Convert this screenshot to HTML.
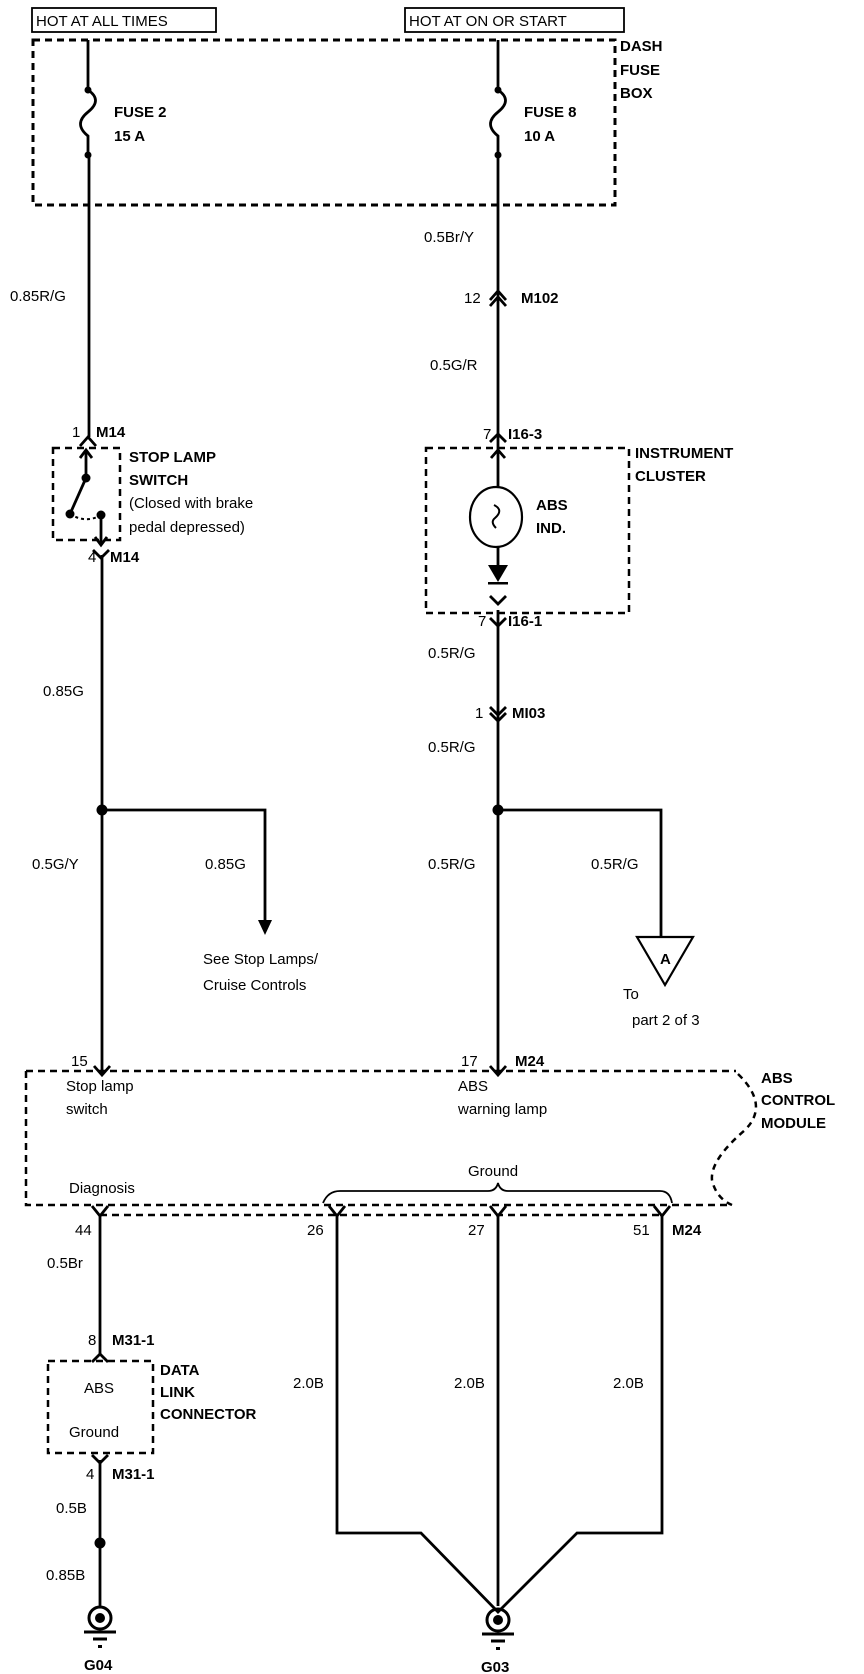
<!DOCTYPE html>
<html><head><meta charset="utf-8"><style>
html,body{margin:0;padding:0;background:#fff;}
svg{display:block;}
text{font-family:"Liberation Sans",Arial,sans-serif;font-size:15px;fill:#000;}
.b{font-weight:bold;font-size:15px;}
</style></head><body>
<svg width="864" height="1674" viewBox="0 0 864 1674" xmlns="http://www.w3.org/2000/svg">
<g fill="none" stroke="#000" stroke-width="2.8">
<rect x="32" y="8" width="184" height="24" stroke-width="1.8"/>
<rect x="405" y="8" width="219" height="24" stroke-width="1.8"/>
<rect x="33" y="40" width="582" height="165" stroke-dasharray="7,5" stroke-width="3"/>
<line x1="88" y1="40" x2="88" y2="90"/>
<path d="M88 90 Q103 100 88 112 Q73 124 88 136 L88 155"/>
<line x1="89" y1="155" x2="89" y2="437"/>
<line x1="498" y1="40" x2="498" y2="90"/>
<path d="M498 90 Q513 100 498 112 Q483 124 498 136 L498 155"/>
<line x1="498" y1="155" x2="498" y2="565"/>
<path d="M490 300 L498 291 L506 300 M490 306 L498 297 L506 306"/>
<path d="M80 446 L88 437 L96 446"/>
<rect x="53" y="448" width="67" height="92" stroke-dasharray="7,5" stroke-width="2.5"/>
<line x1="86" y1="478" x2="86" y2="450"/>
<path d="M80 458 L86 450 L92 458"/>
<line x1="86" y1="478" x2="70" y2="514"/>
<path d="M70 514 Q86 524 101 515" stroke-dasharray="3,3" stroke-width="2"/>
<line x1="101" y1="515" x2="101" y2="545"/>
<path d="M95 537 L101 545 L107 537"/>
<path d="M93 550 L101 558 L109 550"/>
<line x1="102" y1="555" x2="102" y2="1075"/>
<rect x="426" y="448" width="203" height="165" stroke-dasharray="7,5" stroke-width="2.5"/>
<path d="M490 442 L498 434 L506 442"/>
<path d="M491 458 L498 450 L505 458"/>
<ellipse cx="496" cy="517" rx="26" ry="30" fill="#fff" stroke-width="2.2"/>
<path d="M494 505 Q504 510 495 518 Q490 522 496 528" stroke-width="2"/>
<path d="M490 596 L498 604 L506 596"/>
<path d="M490 618 L498 626 L506 618"/>
<line x1="498" y1="610" x2="498" y2="1075"/>
<path d="M490 707 L498 715 L506 707 M490 713 L498 721 L506 713"/>
<polyline points="102,810 265,810 265,920"/>
<polyline points="498,810 661,810 661,937"/>
<path d="M26 1071 L736 1071" stroke-dasharray="7,5" stroke-width="2.5"/>
<path d="M26 1071 L26 1205 L730 1205" stroke-dasharray="7,5" stroke-width="2.5"/>
<path d="M738 1074 Q770 1105 745 1130 Q710 1160 712 1180 Q716 1198 732 1205" stroke-dasharray="6,5" stroke-width="2.5"/>
<path d="M100 1215 L662 1215" stroke-dasharray="7,5" stroke-width="2.5"/>
<path d="M94 1066 L102 1075 L110 1066"/>
<path d="M490 1066 L498 1075 L506 1066"/>
<path d="M323 1203 Q328 1191 340 1191 L488 1191 Q496 1191 498 1183 Q500 1191 508 1191 L660 1191 Q670 1191 672 1203" stroke-width="1.8"/>
<path d="M92 1206 L100 1216 L108 1206"/>
<path d="M329 1206 L337 1216 L345 1206"/>
<path d="M490 1206 L498 1216 L506 1206"/>
<path d="M654 1206 L662 1216 L670 1206"/>
<line x1="100" y1="1215" x2="100" y2="1356"/>
<path d="M92 1362 L100 1354 L108 1362"/>
<rect x="48" y="1361" width="105" height="92" stroke-dasharray="7,5" stroke-width="2.5"/>
<path d="M92 1455 L100 1463 L108 1455"/>
<line x1="100" y1="1460" x2="100" y2="1606"/>
<polyline points="337,1215 337,1533 421,1533 498,1612 577,1533 662,1533 662,1215"/>
<line x1="498" y1="1215" x2="498" y2="1606"/>
<circle cx="100" cy="1618" r="11" stroke-width="3"/>
<circle cx="498" cy="1620" r="11" stroke-width="3"/>
<line x1="84" y1="1632" x2="116" y2="1632" stroke-width="3"/>
<line x1="93" y1="1639" x2="107" y2="1639" stroke-width="3"/>
<line x1="482" y1="1634" x2="514" y2="1634" stroke-width="3"/>
<line x1="491" y1="1641" x2="505" y2="1641" stroke-width="3"/>
<polygon points="637,937 693,937 665,985" stroke-width="2.2"/>
</g>
<g fill="#000">
<circle cx="88" cy="90" r="3.5"/><circle cx="88" cy="155" r="3.5"/>
<circle cx="498" cy="90" r="3.5"/><circle cx="498" cy="155" r="3.5"/>
<circle cx="86" cy="478" r="4.5"/><circle cx="70" cy="514" r="4.5"/><circle cx="101" cy="515" r="4.5"/>
<polygon points="488,565 508,565 498,582"/>
<rect x="488" y="582" width="20" height="2.5"/>
<circle cx="102" cy="810" r="5.5"/><circle cx="498" cy="810" r="5.5"/>
<polygon points="258,920 272,920 265,935"/>
<circle cx="100" cy="1543" r="5.5"/>
<circle cx="100" cy="1618" r="5"/><circle cx="498" cy="1620" r="5"/>
<rect x="98" y="1645" width="4" height="3"/><rect x="496" y="1647" width="4" height="3"/>
</g>
<text x="36" y="26">HOT AT ALL TIMES</text>
<text x="409" y="26">HOT AT ON OR START</text>
<text class="b" x="620" y="51">DASH</text>
<text class="b" x="620" y="75">FUSE</text>
<text class="b" x="620" y="98">BOX</text>
<text class="b" x="114" y="117">FUSE 2</text>
<text class="b" x="114" y="141">15 A</text>
<text class="b" x="524" y="117">FUSE 8</text>
<text class="b" x="524" y="141">10 A</text>
<text x="424" y="242">0.5Br/Y</text>
<text x="10" y="301">0.85R/G</text>
<text x="464" y="303">12</text>
<text class="b" x="521" y="303">M102</text>
<text x="430" y="370">0.5G/R</text>
<text x="72" y="437">1</text>
<text class="b" x="96" y="437">M14</text>
<text class="b" x="129" y="462">STOP LAMP</text>
<text class="b" x="129" y="485">SWITCH</text>
<text x="129" y="508">(Closed with brake</text>
<text x="129" y="532">pedal depressed)</text>
<text x="88" y="562">4</text>
<text class="b" x="110" y="562">M14</text>
<text x="483" y="439">7</text>
<text class="b" x="508" y="439">I16-3</text>
<text class="b" x="635" y="458">INSTRUMENT</text>
<text class="b" x="635" y="481">CLUSTER</text>
<text class="b" x="536" y="510">ABS</text>
<text class="b" x="536" y="533">IND.</text>
<text x="478" y="626">7</text>
<text class="b" x="508" y="626">I16-1</text>
<text x="428" y="658">0.5R/G</text>
<text x="475" y="718">1</text>
<text class="b" x="512" y="718">MI03</text>
<text x="428" y="752">0.5R/G</text>
<text x="43" y="696">0.85G</text>
<text x="32" y="869">0.5G/Y</text>
<text x="205" y="869">0.85G</text>
<text x="203" y="964">See Stop Lamps/</text>
<text x="203" y="990">Cruise Controls</text>
<text x="428" y="869">0.5R/G</text>
<text x="591" y="869">0.5R/G</text>
<text class="b" x="660" y="964">A</text>
<text x="623" y="999">To</text>
<text x="632" y="1025">part 2 of 3</text>
<text x="71" y="1066">15</text>
<text x="461" y="1066">17</text>
<text class="b" x="515" y="1066">M24</text>
<text x="66" y="1091">Stop lamp</text>
<text x="66" y="1114">switch</text>
<text x="458" y="1091">ABS</text>
<text x="458" y="1114">warning lamp</text>
<text class="b" x="761" y="1083">ABS</text>
<text class="b" x="761" y="1105">CONTROL</text>
<text class="b" x="761" y="1128">MODULE</text>
<text x="468" y="1176">Ground</text>
<text x="69" y="1193">Diagnosis</text>
<text x="75" y="1235">44</text>
<text x="307" y="1235">26</text>
<text x="468" y="1235">27</text>
<text x="633" y="1235">51</text>
<text class="b" x="672" y="1235">M24</text>
<text x="47" y="1268">0.5Br</text>
<text x="88" y="1345">8</text>
<text class="b" x="112" y="1345">M31-1</text>
<text x="84" y="1393">ABS</text>
<text x="69" y="1437">Ground</text>
<text class="b" x="160" y="1375">DATA</text>
<text class="b" x="160" y="1397">LINK</text>
<text class="b" x="160" y="1419">CONNECTOR</text>
<text x="86" y="1479">4</text>
<text class="b" x="112" y="1479">M31-1</text>
<text x="293" y="1388">2.0B</text>
<text x="454" y="1388">2.0B</text>
<text x="613" y="1388">2.0B</text>
<text x="56" y="1513">0.5B</text>
<text x="46" y="1580">0.85B</text>
<text class="b" x="84" y="1670">G04</text>
<text class="b" x="481" y="1672">G03</text>
</svg>
</body></html>
